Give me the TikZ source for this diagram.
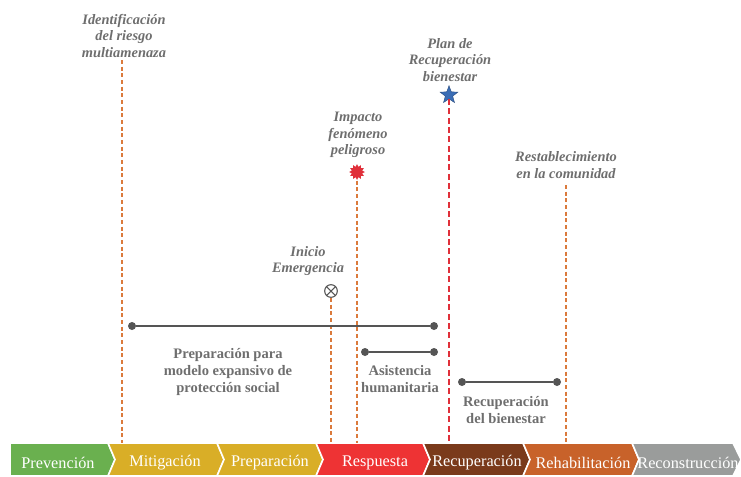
\documentclass[tikz,border=0pt]{standalone}
\usepackage{fontspec}
\setmainfont{Liberation Serif}
\usetikzlibrary{shapes.geometric}
\definecolor{txtgray}{HTML}{6E6E6E}
\definecolor{bargray}{HTML}{555555}
\definecolor{dashorange}{HTML}{DB7A3C}
\definecolor{dashred}{HTML}{E0303A}
\definecolor{cgreen}{HTML}{6AB04F}
\definecolor{cmustard}{HTML}{D9AE27}
\definecolor{cred}{HTML}{EE3334}
\definecolor{cbrown}{HTML}{7A3A1B}
\definecolor{corange}{HTML}{C8622A}
\definecolor{cgray}{HTML}{9A9C9B}
\definecolor{starblue}{HTML}{3B6DB5}
\begin{document}
\begin{tikzpicture}[x=0.75pt,y=-0.75pt,
  lbl/.style={text=txtgray, font=\fontsize{10.8}{12.4}\selectfont\bfseries\itshape, align=center, inner sep=0pt},
  blbl/.style={text=txtgray, font=\fontsize{10.9}{12.6}\selectfont\bfseries, align=center, inner sep=0pt},
  vdash/.style={draw=dashorange, line width=0.9pt, dash pattern=on 3pt off 2pt},
  rdash/.style={draw=dashred, line width=1.6pt, dash pattern=on 4.5pt off 2.5pt},
  hbar/.style={draw=bargray, line width=1.4pt},
  dotn/.style={circle, fill=bargray, inner sep=0pt, minimum size=6pt},
  chev/.style={draw=white, line width=1.2pt, line join=miter},
  chlbl/.style={text=white, font=\fontsize{12.2}{13}\selectfont, inner sep=0pt}]
\useasboundingbox (0,0) rectangle (741,476);

% chevron bar
\path[chev, fill=cgreen]   (10,443) -- (108,443) -- (115,459.5) -- (108,476) -- (10,476) -- cycle;
\path[chev, fill=cmustard] (108,443) -- (217,443) -- (224,459.5) -- (217,476) -- (108,476) -- (115,459.5) -- cycle;
\path[chev, fill=cmustard] (217,443) -- (316,443) -- (323,459.5) -- (316,476) -- (217,476) -- (224,459.5) -- cycle;
\path[chev, fill=cred]     (316,443) -- (423,443) -- (430,459.5) -- (423,476) -- (316,476) -- (323,459.5) -- cycle;
\path[chev, fill=cbrown]   (423,443) -- (523,443) -- (530,459.5) -- (523,476) -- (423,476) -- (430,459.5) -- cycle;
\path[chev, fill=corange]  (523,443) -- (632,443) -- (639,459.5) -- (632,476) -- (523,476) -- (530,459.5) -- cycle;
\path[chev, fill=cgray]    (632,443) -- (733,443) -- (741,459.5) -- (733,476) -- (632,476) -- (639,459.5) -- cycle;

\node[chlbl] (s1) at (58,463) {Prevención};
\node[chlbl] (s2) at (165,463) {Mitigación};
\node[chlbl] (s3) at (270,463) {Preparación};
\node[chlbl] (s4) at (375,463) {Respuesta};
\node[chlbl] (s5) at (477,463) {Recuperación};
\node[chlbl] (s6) at (583,463) {Rehabilitación};
\node[chlbl] (s7) at (688,463) {Reconstrucción};

% bar-top coordinates
\coordinate (b1) at (122,443);
\coordinate (b2) at (331,443);
\coordinate (b3) at (357,443);
\coordinate (b4) at (449,443);
\coordinate (b5) at (566,443);

% top labels
\node[lbl] (t1) at (124,36) {Identificación\\del riesgo\\multiamenaza};
\node[lbl] (t2) at (450,60) {Plan de\\Recuperación\\bienestar};
\node[lbl] (t3) at (358,135) {Impacto\\fenómeno\\peligroso};
\node[lbl] (t4) at (566,165) {Restablecimiento\\en la comunidad};
\node[lbl] (t5) at (308,261) {Inicio\\Emergencia};

% markers
\coordinate (m1) at (122,60);
\coordinate (m5) at (566,185);
\node[star, star points=5, star point ratio=2.4, fill=starblue, draw=starblue!70!black, line width=0.3pt, inner sep=0pt, minimum size=14pt] (m4) at (449,95) {};
\node[star, star points=12, star point ratio=1.5, fill=dashred, inner sep=0pt, minimum size=12pt] (m3) at (357,172) {};
\node[circle, draw=bargray, line width=0.8pt, inner sep=0pt, minimum size=9.5pt] (m2) at (331,291) {};
\draw[bargray, line width=0.8pt] (m2.north east) -- (m2.south west) (m2.north west) -- (m2.south east);

% vertical dashed lines
\draw[vdash] (m1) -- (b1);
\draw[vdash] (m2) -- (b2);
\draw[vdash] (m3) -- (b3);
\draw[rdash] (m4) -- (b4);
\draw[vdash] (m5) -- (b5);

% horizontal bars
\node[dotn] (p1) at (132,326) {};
\node[dotn] (p2) at (434,326) {};
\node[dotn] (a1) at (365,352) {};
\node[dotn] (a2) at (434,352) {};
\node[dotn] (r1) at (462,382) {};
\node[dotn] (r2) at (557,382) {};
\draw[hbar] (p1) -- (p2);
\draw[hbar] (a1) -- (a2);
\draw[hbar] (r1) -- (r2);

\node[blbl] (l1) at (228,372) {Preparación para\\modelo expansivo de\\protección social};
\node[blbl] (l2) at (400,379) {Asistencia\\humanitaria};
\node[blbl] (l3) at (506,410) {Recuperación\\del bienestar};
\end{tikzpicture}
\end{document}
